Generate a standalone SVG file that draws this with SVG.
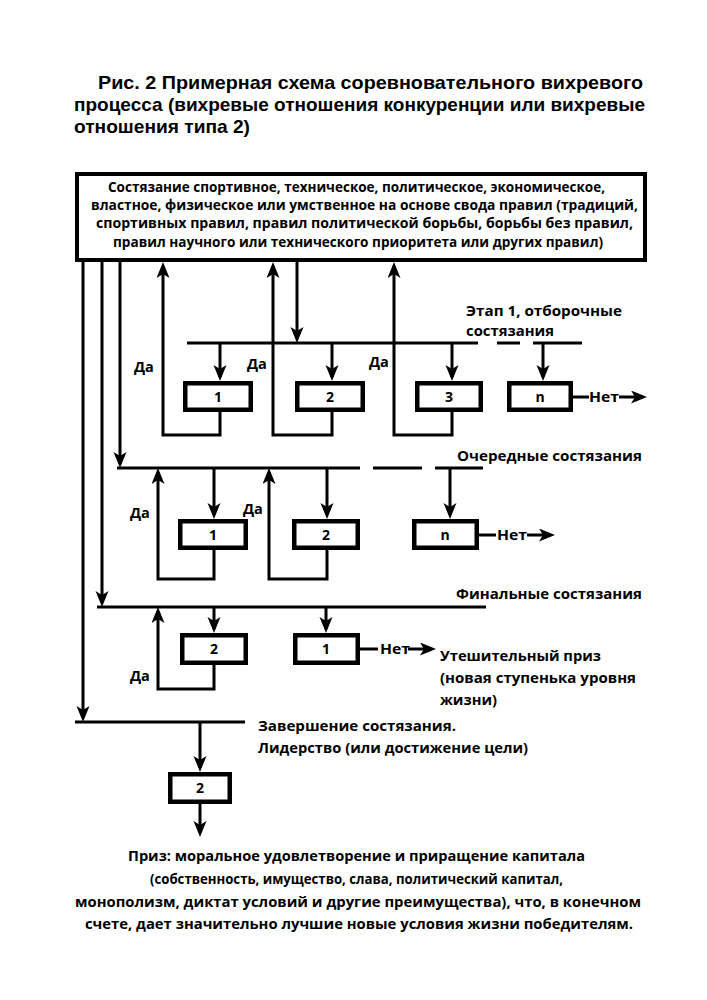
<svg xmlns="http://www.w3.org/2000/svg" width="707" height="1000" viewBox="0 0 707 1000">
<defs>
<style>
text{font-family:"Open Sans","Noto Sans","DejaVu Sans",sans-serif;font-weight:700;fill:#000}
.t{font-family:"Liberation Sans",Arial,sans-serif;font-size:18.5px}
.b{font-size:13.5px}
.l{font-size:14.5px}
.n{font-size:14px;text-anchor:middle}
.box{fill:#fff;stroke:#000;stroke-width:4.5}
.c{fill:none;stroke:#000;stroke-width:3}
.a{marker-end:url(#ah)}
</style>
<marker id="ah" markerUnits="userSpaceOnUse" markerWidth="17" markerHeight="14" refX="12" refY="6.5" orient="auto">
<path d="M0,0 L16,6.5 L0,13 L4,6.5 Z" fill="#000"/>
</marker>
</defs>
<rect width="707" height="1000" fill="#fff"/>

<g id="title">
<text class="t" x="98" y="89" textLength="545" lengthAdjust="spacingAndGlyphs">Рис. 2 Примерная схема соревновательного вихревого</text>
<text class="t" x="74" y="111" textLength="571" lengthAdjust="spacingAndGlyphs">процесса (вихревые отношения конкуренции или вихревые</text>
<text class="t" x="74" y="133" textLength="176" lengthAdjust="spacingAndGlyphs">отношения типа 2)</text>
</g>

<g id="connectors">
<path class="c a" d="M83,262 V718"/>
<path class="c a" d="M102,262 V603"/>
<path class="c a" d="M120,262 V464"/>
<path class="c a" d="M297,262 V339"/>
<path class="c" d="M187,343 H478 M497,343 H520 M533,343 H582"/>
<path class="c a" d="M220,343 V377"/>
<path class="c a" d="M332,343 V377"/>
<path class="c a" d="M452,343 V377"/>
<path class="c a" d="M543,343 V377"/>
<path class="c a" d="M220,412 V435 H163 V266"/>
<path class="c a" d="M332,412 V435 H273 V266"/>
<path class="c a" d="M452,412 V435 H394 V266"/>
<path class="c" d="M573,397 H589"/>
<path class="c a" d="M619,397 H643"/>
<path class="c" d="M117,468 H360 M373,468 H422 M435,468 H483"/>
<path class="c a" d="M214,468 V515"/>
<path class="c a" d="M327,468 V515"/>
<path class="c a" d="M450,468 V515"/>
<path class="c a" d="M214,550 V579 H158 V472"/>
<path class="c a" d="M327,550 V579 H269 V472"/>
<path class="c" d="M479,535 H496"/>
<path class="c a" d="M527,535 H551"/>
<path class="c" d="M97,607 H486"/>
<path class="c a" d="M214,607 V629"/>
<path class="c a" d="M326,607 V629"/>
<path class="c a" d="M214,665 V689 H158 V611"/>
<path class="c" d="M358,649 H378"/>
<path class="c a" d="M408,649 H432"/>
<path class="c" d="M75,722 H245"/>
<path class="c a" d="M200,722 V768"/>
<path class="c a" d="M200,804 V833"/>
</g>

<g id="top">
<rect x="77" y="174" width="568" height="86" fill="#fff" stroke="#000" stroke-width="4"/>
<text class="b" x="108" y="192" textLength="497" lengthAdjust="spacingAndGlyphs">Состязание спортивное, техническое, политическое, экономическое,</text>
<text class="b" x="91" y="210" textLength="547" lengthAdjust="spacingAndGlyphs">властное, физическое или умственное на основе свода правил (традиций,</text>
<text class="b" x="96" y="228" textLength="537" lengthAdjust="spacingAndGlyphs">спортивных правил, правил политической борьбы, борьбы без правил,</text>
<text class="b" x="113" y="247" textLength="490" lengthAdjust="spacingAndGlyphs">правил научного или технического приоритета или других правил)</text>
</g>

<g id="stage1">
<text class="l" x="466" y="316" textLength="156" lengthAdjust="spacingAndGlyphs">Этап 1, отборочные</text>
<text class="l" x="466" y="336" textLength="88" lengthAdjust="spacingAndGlyphs">состязания</text>
<text class="l" x="134" y="372">Да</text>
<text class="l" x="247" y="369">Да</text>
<text class="l" x="369" y="367">Да</text>
</g>
<g id="s1-box1"><rect class="box" x="185.25" y="383.25" width="65.5" height="26.5"/><text class="n" x="218" y="402">1</text></g>
<g id="s1-box2"><rect class="box" x="297.25" y="383.25" width="65.5" height="26.5"/><text class="n" x="330" y="402">2</text></g>
<g id="s1-box3"><rect class="box" x="417.25" y="383.25" width="63.5" height="26.5"/><text class="n" x="449" y="402">3</text></g>
<g id="s1-boxn"><rect class="box" x="509.25" y="383.25" width="61.5" height="26.5"/><text class="n" x="540" y="402">n</text></g>
<g id="s1-no"><text class="l" x="589" y="402" textLength="30" lengthAdjust="spacingAndGlyphs">Нет</text></g>

<g id="stage2">
<text class="l" x="457" y="461" textLength="185" lengthAdjust="spacingAndGlyphs">Очередные состязания</text>
<text class="l" x="130" y="518">Да</text>
<text class="l" x="243" y="514">Да</text>
</g>
<g id="s2-box1"><rect class="box" x="180.25" y="521.25" width="65.5" height="26.5"/><text class="n" x="213" y="540">1</text></g>
<g id="s2-box2"><rect class="box" x="294.25" y="521.25" width="63.5" height="26.5"/><text class="n" x="326" y="540">2</text></g>
<g id="s2-boxn"><rect class="box" x="414.25" y="521.25" width="62.5" height="26.5"/><text class="n" x="445" y="540">n</text></g>
<g id="s2-no"><text class="l" x="497" y="540" textLength="30" lengthAdjust="spacingAndGlyphs">Нет</text></g>

<g id="final">
<text class="l" x="456" y="599" textLength="186" lengthAdjust="spacingAndGlyphs">Финальные состязания</text>
<text class="l" x="130" y="681">Да</text>
</g>
<g id="f-box2"><rect class="box" x="182.25" y="635.25" width="63.5" height="27.5"/><text class="n" x="214" y="654">2</text></g>
<g id="f-box1"><rect class="box" x="295.25" y="635.25" width="62.5" height="27.5"/><text class="n" x="326" y="654">1</text></g>
<g id="f-no">
<text class="l" x="380" y="654" textLength="30" lengthAdjust="spacingAndGlyphs">Нет</text>
<text class="l" x="440" y="661" textLength="161" lengthAdjust="spacingAndGlyphs">Утешительный приз</text>
<text class="l" x="440" y="683" textLength="196" lengthAdjust="spacingAndGlyphs">(новая ступенька уровня</text>
<text class="l" x="440" y="705" textLength="57" lengthAdjust="spacingAndGlyphs">жизни)</text>
</g>

<g id="end">
<text class="l" x="258" y="731" textLength="198" lengthAdjust="spacingAndGlyphs">Завершение состязания.</text>
<text class="l" x="258" y="753" textLength="270" lengthAdjust="spacingAndGlyphs">Лидерство (или достижение цели)</text>
</g>
<g id="end-box"><rect class="box" x="170.25" y="774.25" width="59.5" height="27.5"/><text class="n" x="200" y="793">2</text></g>

<g id="prize">
<text class="l" x="128" y="861" textLength="457" lengthAdjust="spacingAndGlyphs">Приз: моральное удовлетворение и приращение капитала</text>
<text class="l" x="150" y="884" textLength="413" lengthAdjust="spacingAndGlyphs">(собственность, имущество, слава, политический капитал,</text>
<text class="l" x="75" y="907" textLength="566" lengthAdjust="spacingAndGlyphs">монополизм, диктат условий и другие преимущества), что, в конечном</text>
<text class="l" x="85" y="929" textLength="548" lengthAdjust="spacingAndGlyphs">счете, дает значительно лучшие новые условия жизни победителям.</text>
</g>
</svg>
